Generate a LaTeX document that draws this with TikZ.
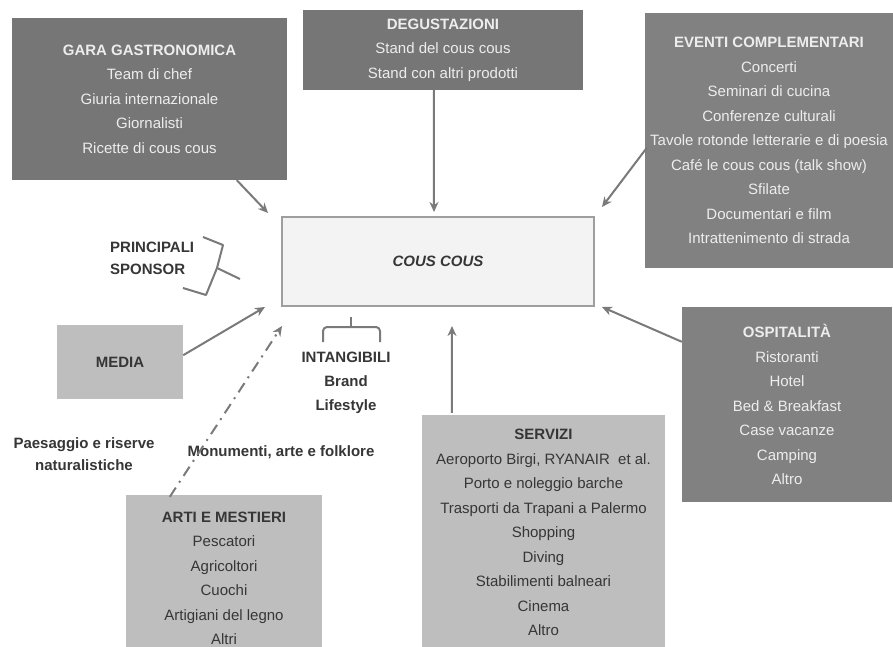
\documentclass[tikz,border=0pt]{standalone}
\usepackage{fontspec}
\setmainfont{Liberation Sans}
\usetikzlibrary{arrows.meta}
\definecolor{darkboxc}{HTML}{767676}
\definecolor{lightboxc}{HTML}{BEBEBE}
\definecolor{lighttext}{HTML}{EDEDED}
\definecolor{darktext}{HTML}{363636}
\definecolor{linegrey}{HTML}{7A7A7A}
\definecolor{centerfill}{HTML}{F3F3F3}
\definecolor{centerline}{HTML}{9E9E9E}
\begin{document}
\begin{tikzpicture}[x=1pt,y=-1pt,
  txt/.style={font=\fontsize{15}{24.5}\selectfont, align=center},
  darkbox/.style={txt, fill=darkboxc, draw=none, text=lighttext, inner sep=0pt},
  lightbox/.style={txt, fill=lightboxc, draw=none, text=darktext, inner sep=0pt},
  lbl/.style={font=\fontsize{15}{22}\selectfont\bfseries, text=darktext, align=center, inner sep=0pt},
  conn/.style={draw=linegrey, line width=2pt, -{Stealth[length=10pt,width=9pt]}},
  brace/.style={draw=linegrey, line width=2pt, line join=round},
]
\useasboundingbox[fill=white] (0,0) rectangle (893,647);

% boxes
\node[darkbox, minimum width=275pt, minimum height=162pt] (gara) at (149.5,99)
  {\textbf{GARA GASTRONOMICA}\\Team di chef\\Giuria internazionale\\Giornalisti\\Ricette di cous cous};
\node[darkbox, minimum width=280pt, minimum height=80pt] (degus) at (443,50)
  {\textbf{DEGUSTAZIONI}\\Stand del cous cous\\Stand con altri prodotti};
\node[darkbox, fill=darkboxc!92!white, minimum width=248pt, minimum height=255pt] (eventi) at (769,140.5)
  {\textbf{EVENTI COMPLEMENTARI}\\Concerti\\Seminari di cucina\\Conferenze culturali\\Tavole rotonde letterarie e di poesia\\Café le cous cous (talk show)\\Sfilate\\Documentari e film\\Intrattenimento di strada};
\node[darkbox, fill=darkboxc!92!white, minimum width=210pt, minimum height=195pt] (osp) at (787,404.5)
  {\textbf{OSPITALITÀ}\\Ristoranti\\Hotel\\Bed \& Breakfast\\Case vacanze\\Camping\\Altro};
\node[lightbox, minimum width=126pt, minimum height=74pt] (media) at (120,362)
  {\textbf{MEDIA}};
\node[lightbox, minimum width=243pt, minimum height=235pt] (servizi) at (543.5,532.5)
  {\textbf{SERVIZI}\\Aeroporto Birgi, RYANAIR\ \ et al.\\Porto e noleggio barche\\Trasporti da Trapani a Palermo\\Shopping\\Diving\\Stabilimenti balneari\\Cinema\\Altro};
\node[lightbox, minimum width=196pt, minimum height=167pt] (arti) at (224,578.5)
  {\textbf{ARTI E MESTIERI}\\Pescatori\\Agricoltori\\Cuochi\\Artigiani del legno\\Altri};
\node[draw=centerline, fill=centerfill, line width=1.2pt, minimum width=312pt, minimum height=89pt,
  font=\fontsize{15}{18}\selectfont\bfseries\itshape, text=darktext] (cous) at (438,261.5) {COUS COUS};

% labels
\node[lbl, align=left, anchor=west] (sponsor) at (110,258) {PRINCIPALI\\SPONSOR};
\node[lbl, text depth=0pt] (intang) at (346,381) {INTANGIBILI\\[2pt]Brand\\[2pt]Lifestyle};
\node[lbl] (paes) at (84,454) {Paesaggio e riserve\\naturalistiche};
\node[lbl] (monum) at (281,452) {Monumenti, arte e folklore};

% connector end points
\coordinate (gEnd) at (268,213);
\coordinate (dEnd) at (434,212);
\coordinate (eEnd) at (602,207);
\coordinate (mEnd) at (265,307);
\coordinate (aEnd) at (282,326);
\coordinate (sEnd) at (452,326);
\coordinate (oEnd) at (602,307);

\draw[conn] (gara.south west) ++(225,0) coordinate (gStart) -- (gEnd);
\draw[conn] (degus.south west) ++(131,0) coordinate (dStart) -- (dEnd);
\draw[conn] (eventi.north west) ++(2,135) coordinate (eStart) -- (eEnd);
\draw[conn] (media.south east) ++(0,-44) coordinate (mStart) -- (mEnd);
\draw[conn] (servizi.north west) ++(30,-2) coordinate (sStart) -- (sEnd);
\draw[conn] (osp.north west) ++(0,35) coordinate (oStart) -- (oEnd);
\draw[conn, dash pattern=on 11pt off 6pt on 2pt off 6pt] (arti.north west) ++(44,2) coordinate (aStart) -- (aEnd);

% braces
\draw[brace] (203,237) -- (223,245) -- (217,268) -- (206,295) -- (183,288);
\draw[brace] (217,268) -- (240,279);
\draw[brace, rounded corners=4pt] (323,342) -- (323,327) -- (380,327) -- (380,342);
\draw[brace] (351,317) -- (351,327);
\end{tikzpicture}
\end{document}
